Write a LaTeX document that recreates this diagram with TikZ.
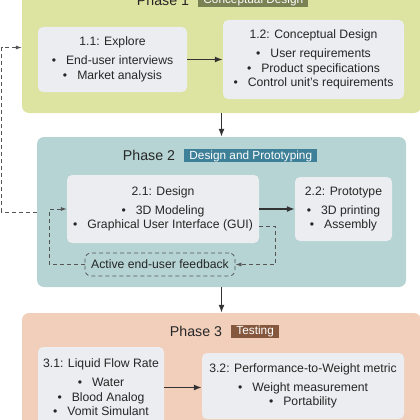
\documentclass[tikz,border=0pt]{standalone}
\usepackage{fontspec}
\setmainfont{Liberation Sans}
\usepackage{tikz}
\usetikzlibrary{positioning, arrows.meta}
\definecolor{phaseone}{HTML}{DDE3A1}
\definecolor{phasetwo}{HTML}{B6D4D4}
\definecolor{phasethree}{HTML}{F1CFBB}
\definecolor{taskgrey}{HTML}{ECEDF0}
\definecolor{tagone}{HTML}{7A8152}
\definecolor{tagtwo}{HTML}{3D8097}
\definecolor{tagthree}{HTML}{85583D}
\definecolor{inkdark}{HTML}{262626}
\definecolor{linegrey}{HTML}{333333}
\definecolor{dashgrey}{HTML}{555555}
\newcommand{\itm}{\textbullet\hspace{10pt}}

\begin{document}
\begin{tikzpicture}[x=1pt, y=-1pt, text=inkdark, font=\fontsize{12.2}{14.5}\selectfont,
          phase/.style={rounded corners=7pt, inner sep=0pt},
          task/.style={fill=taskgrey, rounded corners=5pt, align=center, inner sep=0pt},
          title/.style={font=\fontsize{14.2}{16}\selectfont, inner sep=0pt},
          tag/.style={text=white, font=\fontsize{11.8}{14}\selectfont, inner xsep=5pt, inner ysep=0pt,
                      text height=10pt, text depth=3pt, right=9pt of #1},
          flow/.style={draw=linegrey, line width=1.3pt, -{Latex[length=8pt,width=6pt]}},
          fb/.style={draw=dashgrey, line width=0.8pt, dash pattern=on 4pt off 3pt, -{Latex[length=6pt,width=4pt]}}]
        \useasboundingbox (0,0) rectangle (420,420);
        % phases
        \node[phase, fill=phaseone, minimum width=399pt, minimum height=131pt] (phase1) at (221.5,47.5) {};
        \node[phase, fill=phasetwo, minimum width=369pt, minimum height=150pt] (phase2) at (221.5,212) {};
        \node[phase, fill=phasethree, minimum width=399pt, minimum height=129pt] (phase3) at (221.5,377.5) {};
        \node[title] (title1) at (163,0.5) {Phase 1};
        \node[tag=title1, fill=tagone] (tag1) {Conceptual Design};
        \node[title] (title2) at (149,155.5) {Phase 2};
        \node[tag=title2, fill=tagtwo] (tag2) {Design and Prototyping};
        \node[title] (title3) at (196,331) {Phase 3};
        \node[tag=title3, fill=tagthree] (tag3) {Testing};
        % tasks
        \node[task, minimum width=149pt, minimum height=65pt] (explore) at (112.5,59.5)
          {1.1: Explore\\[4.5pt] \itm End-user interviews\\ \itm Market analysis};
        \node[task, minimum width=181pt, minimum height=79pt] (concept) at (313.5,59.5)
          {1.2: Conceptual Design\\[4.5pt] \itm User requirements\\ \itm Product specifications\\ \itm Control unit's requirements};
        \node[task, minimum width=192pt, minimum height=68pt] (design) at (163,209)
          {2.1: Design\\[4.5pt] \itm 3D Modeling\\ \itm Graphical User Interface (GUI)};
        \node[task, minimum width=97pt, minimum height=64pt] (proto) at (343.5,209)
          {2.2: Prototype\\[4.5pt] \itm 3D printing\\ \itm Assembly};
        \node[task, minimum width=126pt, minimum height=81pt] (flowrate) at (101,387.5)
          {3.1: Liquid Flow Rate\\[4.5pt] \itm Water\\ \itm Blood Analog\\ \itm Vomit Simulant};
        \node[task, minimum width=202pt, minimum height=66pt] (weight) at (303,386)
          {3.2: Performance-to-Weight metric\\[4.5pt] \itm Weight measurement\\ \itm Portability};
        \node[draw=dashgrey, line width=0.8pt, dash pattern=on 4pt off 3pt, rounded corners=6pt,
              minimum width=150pt, minimum height=23pt, inner sep=0pt] (feedback) at (160,264.5)
          {Active end-user feedback};
        % connectors
        \draw[flow] (explore.east) -- (explore.east -| concept.west);
        \draw[flow] (design.east) -- (proto.west);
        \draw[flow] (flowrate.east) -- (flowrate.east -| weight.west);
        \draw[flow] (phase1.south) -- (phase2.north);
        \draw[flow] (phase2.south) -- (phase3.north);
        \draw[fb] ([yshift=-17pt]design.east) -- ++(16,0) |- (feedback.east);
        \draw[fb] (feedback.west) -- ++(-35,0) |- (design.west);
        \draw[fb] (phase2.west) -- ++(-35,0) |- (phase1.west);
\end{tikzpicture}
\end{document}
